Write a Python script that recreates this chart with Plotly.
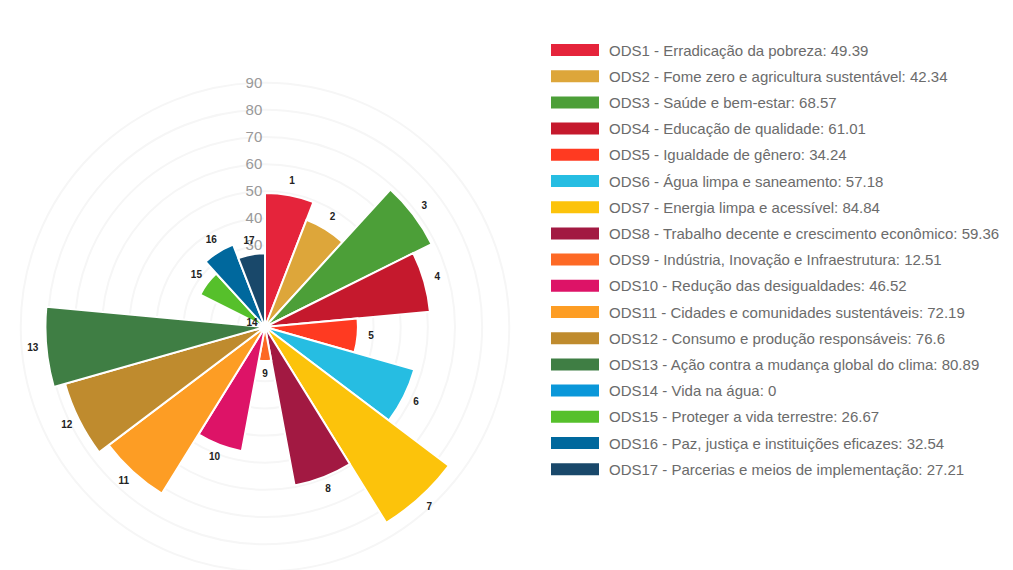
import plotly.graph_objects as go

codes = ["1", "2", "3", "4", "5", "6", "7", "8", "9", "10", "11", "12", "13", "14", "15", "16", "17"]
names = [
    "Erradicação da pobreza",
    "Fome zero e agricultura sustentável",
    "Saúde e bem-estar",
    "Educação de qualidade",
    "Igualdade de gênero",
    "Água limpa e saneamento",
    "Energia limpa e acessível",
    "Trabalho decente e crescimento econômico",
    "Indústria, Inovação e Infraestrutura",
    "Redução das desigualdades",
    "Cidades e comunidades sustentáveis",
    "Consumo e produção responsáveis",
    "Ação contra a mudança global do clima",
    "Vida na água",
    "Proteger a vida terrestre",
    "Paz, justiça e instituições eficazes",
    "Parcerias e meios de implementação",
]
values = [49.39, 42.34, 68.57, 61.01, 34.24, 57.18, 84.84, 59.36, 12.51,
          46.52, 72.19, 76.6, 80.89, 0, 26.67, 32.54, 27.21]
value_text = ["49.39", "42.34", "68.57", "61.01", "34.24", "57.18", "84.84", "59.36", "12.51",
              "46.52", "72.19", "76.6", "80.89", "0", "26.67", "32.54", "27.21"]
colors = ["#E5243B", "#DDA63A", "#4C9F38", "#C5192D", "#FF3A21", "#26BDE2", "#FCC30B",
          "#A21942", "#FD6925", "#DD1367", "#FD9D24", "#BF8B2E", "#3F7E44", "#0A97D9",
          "#56C02B", "#00689D", "#19486A"]

n = len(codes)
step = 360.0 / n
thetas = [(i + 0.5) * step for i in range(n)]

W, H = 1013, 570
off = 8  # page body margin
cx, cy, R = 265 - off, 327 - off, 247

fig = go.Figure()
fig.add_trace(go.Barpolar(
    r=values, theta=thetas, width=[step] * n,
    marker=dict(color=colors, line=dict(color="white", width=2)),
    hovertext=[f"ODS{c} - {nm}: {v}" for c, nm, v in zip(codes, names, value_text)],
    hoverinfo="text", showlegend=False,
))
fig.add_trace(go.Scatterpolar(
    r=[v + 5 for v in values], theta=thetas, mode="text",
    text=[f"<b>{c}</b>" for c in codes], cliponaxis=False,
    textfont=dict(family="Arial, Liberation Sans", size=10, color="#222"),
    hoverinfo="skip", showlegend=False,
))

shapes = []
annotations = []
row0, row_step = 50 - off, 26.2
for i in range(n):
    yc = row0 + i * row_step
    shapes.append(dict(type="rect", xref="paper", yref="paper",
                       x0=(551 - off) / W, x1=(599 - off) / W,
                       y0=1 - (yc + 6) / H, y1=1 - (yc - 6) / H,
                       fillcolor=colors[i], line=dict(width=0)))
    annotations.append(dict(xref="paper", yref="paper", x=(607 - off) / W, y=1 - yc / H,
                            xanchor="left", yanchor="middle", showarrow=False,
                            text=f"ODS{codes[i]} - {names[i]}: {value_text[i]}",
                            font=dict(family="Arial, Liberation Sans", size=15, color="#6b6b6b")))

fig.update_layout(
    width=W, height=H,
    margin=dict(l=0, r=0, t=0, b=0),
    paper_bgcolor="white", plot_bgcolor="white",
    showlegend=False,
    shapes=shapes, annotations=annotations,
    polar=dict(
        domain=dict(x=[(cx - R) / W, (cx + R) / W], y=[1 - (cy + R) / H, 1 - (cy - R) / H]),
        bgcolor="white",
        radialaxis=dict(range=[0, 91], dtick=10, angle=90, side="counterclockwise",
                        tickangle=90,
                        showline=False, gridcolor="#f6f6f6", gridwidth=2,
                        ticks="", layer="below traces",
                        tickfont=dict(family="Arial, Liberation Sans", size=15, color="#999")),
        angularaxis=dict(rotation=90, direction="clockwise", showticklabels=False,
                         showgrid=False, showline=False, ticks=""),
    ),
)

fig.write_html("out.html")
